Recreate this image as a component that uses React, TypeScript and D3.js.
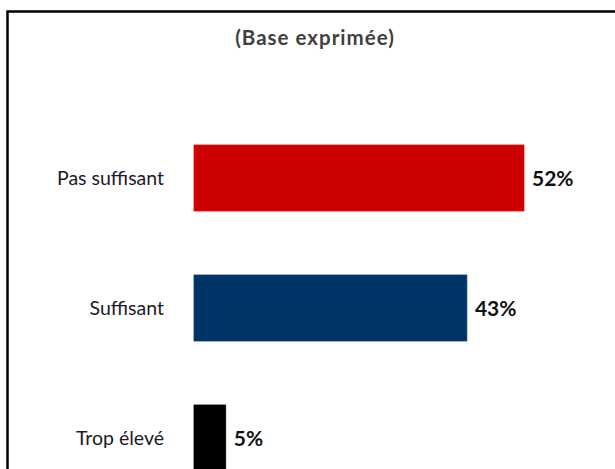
import React from "react";
import * as d3 from "d3";

const categories = ["Pas suffisant", "Suffisant", "Trop élevé"];
const values = [52, 43, 5];
const colors = ["#CC0000", "#003366", "#000000"];
const title = "(Base exprimée)";

export default function App() {
  const W = 615, H = 469;
  const x = d3.scaleLinear().domain([0, 100]).range([194, 828.6]);
  const y = d3.scaleBand<string>().domain(categories).range([145, 471]).paddingInner(64 / 130).paddingOuter(0);
  const font = "Lato, 'Open Sans', sans-serif";
  return (
    <svg width={W} height={H} style={{ position: "fixed", left: 0, top: 0, background: "#fff" }}>
      <rect x={0} y={0} width={W} height={H} fill="#fff" />
      <path d={`M7.5,${H + 5} L7.5,11.5 L${W + 5},11.5`} fill="none" stroke="#000" strokeWidth={2.5} />
      <text x={315} y={45} textAnchor="middle" fontFamily={font} fontWeight={700} fontSize={20.5} letterSpacing={1} fill="#404040">{title}</text>
      {categories.map((c, i) => {
        const by = y(c)!;
        const bh = y.bandwidth();
        const cy = by + bh / 2;
        return (
          <g key={c}>
            <rect x={x(0)} y={by} width={x(values[i]) - x(0)} height={bh} fill={colors[i]} stroke={d3.color(colors[i])!.brighter(0.6).toString()} strokeWidth={0.8} />
            <text x={164} y={cy + 7} textAnchor="end" fontFamily={font} fontSize={19.5} fill="#1a1a2a">{c}</text>
            <text x={x(values[i]) + 8} y={cy + 7.5} fontFamily={font} fontWeight={700} fontSize={21} fill="#111">{values[i]}%</text>
          </g>
        );
      })}
    </svg>
  );
}
